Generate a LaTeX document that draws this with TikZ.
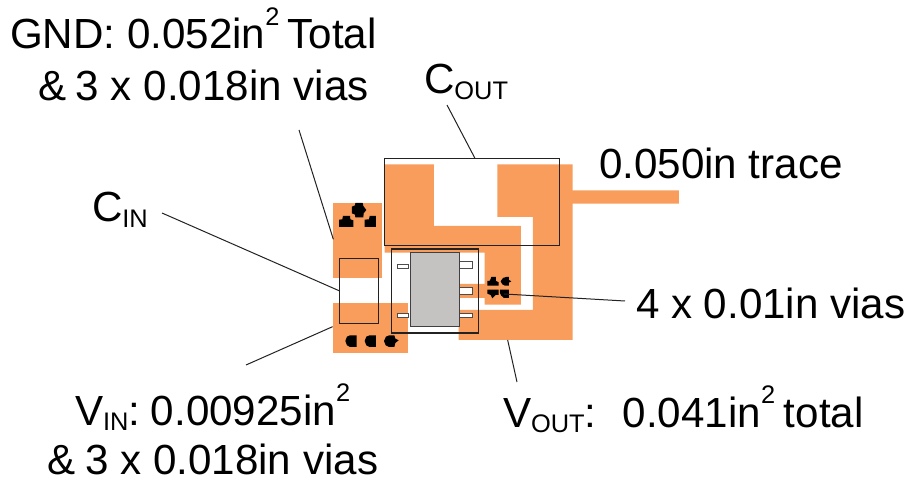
\documentclass[tikz,border=0pt]{standalone}
\usepackage{fontspec}
\setmainfont{Liberation Sans}
\definecolor{pad}{HTML}{F99D5C}
\definecolor{chipgray}{HTML}{C4C3C1}
\definecolor{lead}{HTML}{222222}
\newcommand{\subt}[1]{\raisebox{-0.13em}{\fontsize{25.5}{27}\selectfont #1}}
\newcommand{\supt}[1]{\raisebox{0.55em}{\fontsize{25.5}{27}\selectfont #1}}
\tikzset{
  lbl/.style={anchor=base west,inner sep=0pt,outer sep=0pt,font=\fontsize{42.3}{50}\selectfont,text=black},
  padfill/.style={fill=pad,draw=none},
  outline/.style={draw=lead,line width=1.2bp},
  leader/.style={draw=lead,line width=1bp},
  viablob/.style={fill=black,draw=none},
  pinbox/.style={fill=white,draw=black!70,line width=0.9bp}
}
\begin{document}
\begin{tikzpicture}[x=1bp,y=-1bp]
\useasboundingbox (0,0) rectangle (907,478);
\begin{scope}[shift={(320,140)},x=0.3333bp,y=-0.3333bp]
% pads
\fill[padfill] (38,189) rectangle (186,415);
\fill[padfill] (38,490) rectangle (264,638);
\fill[padfill] (194,73) -- (342,73) -- (342,258) -- (603,258) -- (603,494) -- (494,494) -- (494,474) -- (418,474) -- (418,432) -- (494,432) -- (494,338) -- (194,338) -- cycle;
\fill[padfill] (532,73) -- (758,73) -- (758,151) -- (1077,151) -- (1077,191) -- (758,191) -- (758,600) -- (416,600) -- (416,510) -- (639,510) -- (639,231) -- (532,231) -- cycle;
% chip and pins
\filldraw[pinbox] (418,365) rectangle (458,386);
\filldraw[pinbox] (418,442) rectangle (458,463);
\filldraw[pinbox] (418,520) rectangle (458,532);
\filldraw[pinbox] (232,374) rectangle (264,386);
\filldraw[pinbox] (232,520) rectangle (264,531);
\filldraw[fill=chipgray,draw=black!75,line width=1.1bp] (272,337) rectangle (418,559);
% vias
\fill[viablob] (106,189) -- (128,189) -- (130,198) -- (139,210) -- (131,220) -- (130,232) -- (106,232) -- (105,224) -- (96,220) -- (96,200) -- (105,196) -- cycle;
\fill[viablob] (57,261) -- (57,239) -- (67,238) -- (69,228) -- (90,228) -- (91,238) -- (100,241) -- (100,261) -- cycle;
\fill[viablob] (134,261) -- (134,239) -- (147,238) -- (149,228) -- (168,228) -- (168,261) -- cycle;
\fill[viablob] (110,586) -- (90,586) -- (81,590) -- (76,603) -- (81,616) -- (90,621) -- (110,621) -- cycle;
\fill[viablob] (168,586) -- (149,586) -- (139,590) -- (134,603) -- (139,616) -- (149,621) -- (168,621) -- cycle;
\fill[viablob] (208,586) -- (198,590) -- (192,603) -- (197,616) -- (207,621) -- (223,621) -- (226,609) -- (236,601) -- (226,596) -- (223,586) -- cycle;
\fill[viablob] (502,437) -- (502,423) -- (510,422) -- (514,411) -- (528,411) -- (528,423) -- (536,427) -- (536,437) -- cycle;
\fill[viablob] (542,424) -- (549,414) -- (559,411) -- (567,411) -- (567,420) -- (574,424) -- (567,428) -- (567,437) -- (555,437) -- (547,433) -- cycle;
\fill[viablob] (502,449) -- (536,449) -- (536,465) -- (527,465) -- (517,475) -- (512,465) -- (502,461) -- cycle;
\fill[viablob] (540,449) -- (567,449) -- (567,474) -- (552,474) -- (544,467) -- (540,459) -- cycle;
% outlines
\draw[outline] (194,56) rectangle (718,317);
\draw[outline] (215,327) rectangle (476,579);
\draw[outline] (59,355) rectangle (176,550);
% leader ends
\coordinate (gndA) at (40,298);
\coordinate (coutA) at (465,55);
\coordinate (cinA) at (59,453);
\coordinate (vinA) at (38,560);
\coordinate (voutA) at (563,600);
\coordinate (viaA) at (552,462);
\end{scope}
% labels
\node[lbl] (gnd) at (10,49) {GND: 0.052in\supt{2}\kern-3.5bp\ Total};
\node[lbl] (gnd2) at (38,101) {\&\kern-2bp\ 3 x 0.018in vias};
\node[lbl] (cout) at (424,94) {C\subt{OUT}};
\node[lbl] (cin) at (92,222) {C\subt{IN}};
\node[lbl] (trace) at (599,179) {0.050in trace};
\node[lbl] (vias) at (636,319) {4 x 0.01in vias};
\node[lbl] (vin) at (75,425) {V\subt{IN}:\kern-1bp\ 0.00925in\supt{2}};
\node[lbl] (vin2) at (47,474) {\&\kern-1.5bp\ 3 x 0.018in vias};
\node[lbl] (vout) at (503,427) {V\subt{OUT}:\ \kern3bp\ 0.041in\supt{2}\kern-3bp\ total};
% leaders
\coordinate (gndB) at (299,130);
\coordinate (coutB) at (447,105);
\coordinate (cinB) at (162,213);
\coordinate (vinB) at (246,365);
\coordinate (voutB) at (517,382);
\coordinate (viaB) at (625,301);
\draw[leader] (gndB) -- (gndA);
\draw[leader] (coutB) -- (coutA);
\draw[leader] (cinB) -- (cinA);
\draw[leader] (vinB) -- (vinA);
\draw[leader] (voutB) -- (voutA);
\draw[leader] (viaB) -- (viaA);
\end{tikzpicture}
\end{document}
